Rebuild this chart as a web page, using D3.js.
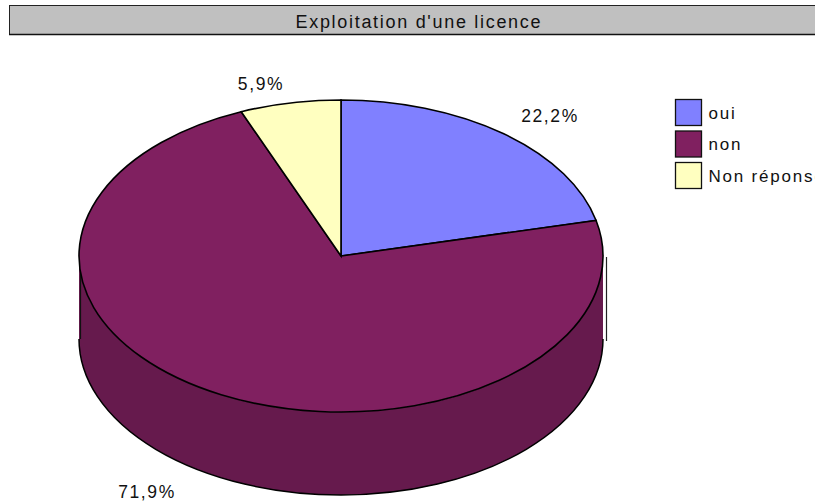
<!DOCTYPE html>
<html>
<head>
<meta charset="utf-8">
<script src="https://cdn.jsdelivr.net/npm/d3@7"></script>
<style>
html, body { margin: 0; padding: 0; background: #fff; overflow: hidden; }
text { font-family: "Liberation Sans", Arial, sans-serif; fill: #111; }
</style>
</head>
<body>
<div id="chart"></div>
<script>
var chartTitle = "Exploitation d'une licence";
var categories = ["oui", "non", "Non réponse"];
var values = [22.2, 71.9, 5.9];
var valueLabels = ["22,2%", "71,9%", "5,9%"];
var topColors = ["#8080ff", "#802060", "#ffffc0"];
var wallColors = ["#6666cc", "#661a4d", "#cccc99"];

var width = 815, height = 502;
var cx = 341, cy = 256, rx = 262, ry = 156, depth = 83;

var svg = d3.select("#chart").append("svg")
    .attr("width", width)
    .attr("height", height)
    .style("display", "block");

// title bar
svg.append("rect")
    .attr("x", 9.5).attr("y", 5.5)
    .attr("width", width + 10).attr("height", 29)
    .attr("fill", "#c0c0c0")
    .attr("stroke", "#222")
    .attr("stroke-width", 1);
svg.append("line")
    .attr("x1", 9).attr("x2", width)
    .attr("y1", 34.5).attr("y2", 34.5)
    .attr("stroke", "#111").attr("stroke-width", 1.5);
svg.append("text")
    .attr("x", 418).attr("y", 28)
    .attr("text-anchor", "middle")
    .attr("font-size", 18)
    .attr("textLength", 245)
    .text(chartTitle);

var pie = d3.pie().sort(null).value(d => d);
var arcs = pie(values);

// the source chart's tilted view pulls the angles slightly back
function warp(a) {
    return a - 0.055 * Math.abs(Math.sin(a));
}
function px(t) { return cx + rx * Math.sin(t); }
function py(t) { return cy - ry * Math.cos(t); }

// side wall, filled only: the reference has no edge on its right side
var g = svg.append("g");
arcs.forEach(function(d, i) {
    var t0 = Math.max(warp(d.startAngle), Math.PI / 2);
    var t1 = Math.min(warp(d.endAngle), Math.PI * 1.5);
    if (t1 <= t0) return;
    var x0 = px(t0), y0 = py(t0), x1 = px(t1), y1 = py(t1);
    g.append("path")
        .attr("d", `M${x0},${y0} A${rx},${ry} 0 0 1 ${x1},${y1} L${x1},${y1 + depth} A${rx},${ry} 0 0 0 ${x0},${y0 + depth} Z`)
        .attr("fill", wallColors[i]);
    g.append("path")
        .attr("d", `M${x0},${y0 + depth} A${rx},${ry} 0 0 1 ${x1},${y1 + depth}`)
        .attr("fill", "none")
        .attr("stroke", "#000")
        .attr("stroke-width", 1.5);
});

// left edge of the wall sits a bit inside the fill
g.append("line")
    .attr("x1", 80.5).attr("x2", 80.5)
    .attr("y1", cy).attr("y2", cy + depth)
    .attr("stroke", "#111").attr("stroke-width", 1.2);

// top slices
g.selectAll("path.slice")
    .data(arcs)
    .join("path")
    .attr("class", "slice")
    .attr("d", function(d) {
        var t0 = warp(d.startAngle), t1 = warp(d.endAngle);
        var large = t1 - t0 > Math.PI ? 1 : 0;
        return `M${cx},${cy} L${px(t0)},${py(t0)} A${rx},${ry} 0 ${large} 1 ${px(t1)},${py(t1)} Z`;
    })
    .attr("fill", (d, i) => topColors[i])
    .attr("stroke", "#000")
    .attr("stroke-width", 1.6);

// stray edge line right of the wall, it is there in the reference
svg.append("line")
    .attr("x1", 606.5).attr("x2", 606.5)
    .attr("y1", cy + 1).attr("y2", cy + depth + 2)
    .attr("stroke", "#222").attr("stroke-width", 1.2);

// data labels
var labelX = [550, 147, 261];
var labelY = [122, 498, 90];
svg.selectAll("text.value")
    .data(valueLabels)
    .join("text")
    .attr("class", "value")
    .attr("x", (d, i) => labelX[i])
    .attr("y", (d, i) => labelY[i])
    .attr("text-anchor", "middle")
    .attr("font-size", 17.5)
    .attr("letter-spacing", 1.6)
    .text(d => d);

// legend
var legend = svg.selectAll("g.legend")
    .data(categories)
    .join("g")
    .attr("class", "legend")
    .attr("transform", (d, i) => `translate(675.5,${99.5 + i * 31.5})`);
legend.append("rect")
    .attr("width", 26).attr("height", 26)
    .attr("fill", (d, i) => topColors[i])
    .attr("stroke", "#111").attr("stroke-width", 1.3);
legend.append("text")
    .attr("x", 33).attr("y", 19)
    .attr("font-size", 17)
    .attr("letter-spacing", 1.8)
    .text(d => d);
</script>
</body>
</html>
